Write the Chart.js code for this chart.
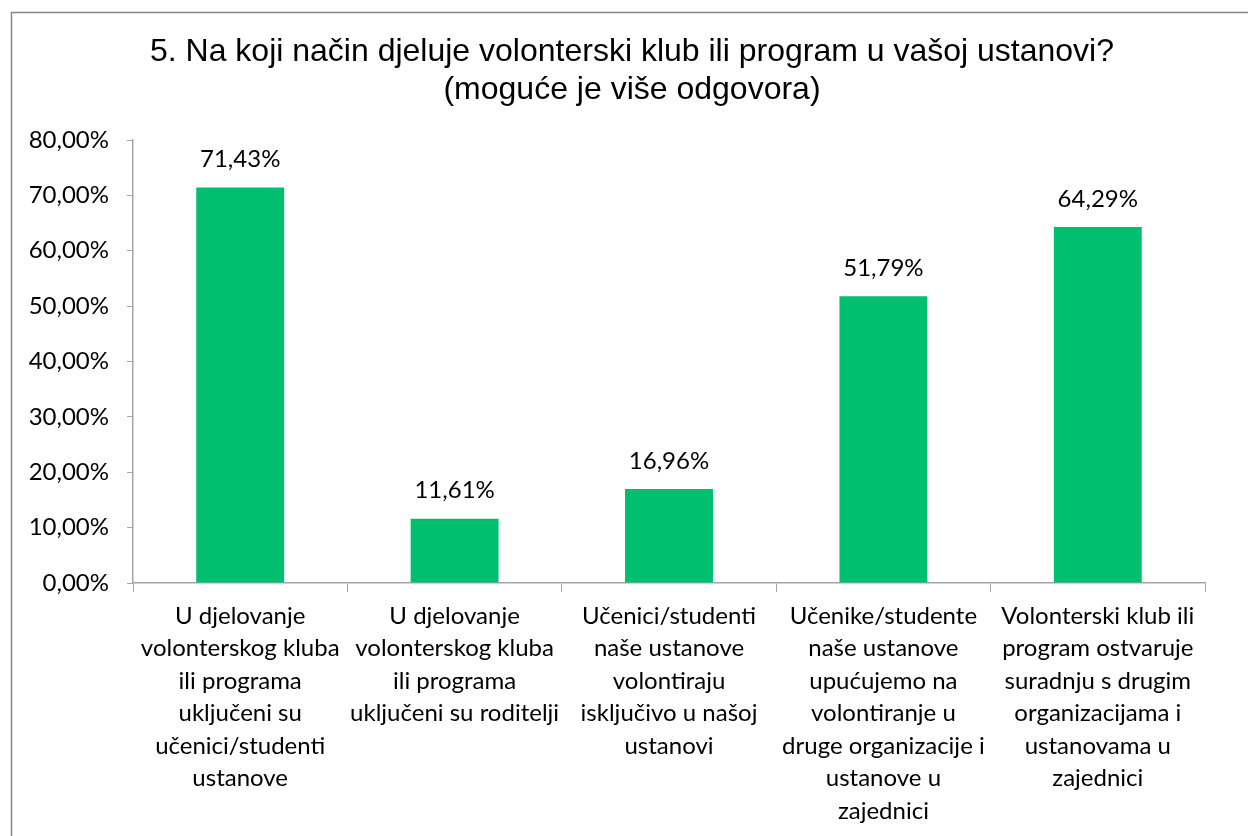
<!DOCTYPE html>
<html>
<head>
<meta charset="utf-8">
<script src="https://cdn.jsdelivr.net/npm/chart.js@4.4.0/dist/chart.umd.min.js"></script>
<style>
  html, body { margin: 0; padding: 0; background: #fff; }
  #wrap { width: 1248px; height: 836px; }
</style>
</head>
<body>
<div id="wrap"><canvas id="grafikon" width="1248" height="836"></canvas></div>
<script>
// podaci s grafikona
const kategorije = [
    ['U djelovanje', 'volonterskog kluba', 'ili programa', 'uključeni su', 'učenici/studenti', 'ustanove'],
    ['U djelovanje', 'volonterskog kluba', 'ili programa', 'uključeni su roditelji'],
    ['Učenici/studenti', 'naše ustanove', 'volontiraju', 'isključivo u našoj', 'ustanovi'],
    ['Učenike/studente', 'naše ustanove', 'upućujemo na', 'volontiranje u', 'druge organizacije i', 'ustanove u', 'zajednici'],
    ['Volonterski klub ili', 'program ostvaruje', 'suradnju s drugim', 'organizacijama i', 'ustanovama u', 'zajednici']
];
const vrijednosti = [0.7143, 0.1161, 0.1696, 0.5179, 0.6429];
const naslov = ['5. Na koji način djeluje volonterski klub ili program u vašoj ustanovi?', '(moguće je više odgovora)'];

const sivaOs = '#a6a6a6';
const zelena = '#00bf6f';
const pismo = 'Lato, "Open Sans", sans-serif';

// format postotka s decimalnim zarezom
function formatPostotak(v) {
    return (v * 100).toFixed(2).replace('.', ',') + '%';
}

// okvir i naslov grafikona
const okvirPlugin = {
    id: 'okvir',
    beforeDraw(chart) {
        const ctx = chart.ctx;
        ctx.save();
        ctx.fillStyle = '#fff';
        ctx.fillRect(0, 0, chart.width, chart.height);
        ctx.strokeStyle = '#878787';
        ctx.lineWidth = 1.5;
        ctx.beginPath();
        ctx.moveTo(11.5, chart.height + 2);
        ctx.lineTo(11.5, 12.5);
        ctx.lineTo(chart.width + 2, 12.5);
        ctx.stroke();

        // naslov u dva retka
        ctx.font = '32px "Liberation Sans", Arial, sans-serif';
        ctx.fillStyle = '#000';
        ctx.textAlign = 'center';
        ctx.textBaseline = 'middle';
        naslov.forEach((red, i) => {
            ctx.fillText(red, 632, 52 + i * 38);
        });
        ctx.restore();
    }
};

// oznake vrijednosti iznad stupaca
const oznakePlugin = {
    id: 'oznake',
    afterDatasetsDraw(chart) {
        const ctx = chart.ctx;
        const meta = chart.getDatasetMeta(0);
        ctx.save();
        ctx.font = '24px ' + pismo;
        ctx.fillStyle = '#000';
        ctx.textAlign = 'center';
        ctx.textBaseline = 'middle';
        meta.data.forEach((bar, i) => {
            ctx.fillText(formatPostotak(vrijednosti[i]), bar.x, bar.y - 28);
        });
        ctx.restore();
    }
};

new Chart(document.getElementById('grafikon'), {
    type: 'bar',
    data: {
        labels: kategorije,
        datasets: [{
            data: vrijednosti,
            backgroundColor: zelena,
            borderWidth: 0,
            categoryPercentage: 1,
            barPercentage: 0.41
        }]
    },
    options: {
        responsive: false,
        animation: false,
        layout: { padding: { top: 140, right: 43, bottom: 0, left: 0 } },
        plugins: {
            legend: { display: false },
            tooltip: { enabled: false },
            title: { display: false }
        },
        scales: {
            y: {
                min: 0,
                max: 0.8,
                afterFit(scale) { scale.width = 133; },
                ticks: {
                    stepSize: 0.1,
                    color: '#000',
                    padding: 18,
                    font: { family: pismo, size: 24 },
                    callback: v => formatPostotak(v)
                },
                grid: { drawOnChartArea: false, color: sivaOs, tickLength: 6 },
                border: { color: sivaOs, width: 1.5 }
            },
            x: {
                afterFit(scale) { scale.height = 253; },
                ticks: {
                    color: '#000',
                    maxRotation: 0,
                    autoSkip: false,
                    padding: 8,
                    font: { family: pismo, size: 24, lineHeight: 1.354 }
                },
                grid: { offset: true, drawOnChartArea: false, color: sivaOs, tickLength: 9 },
                border: { color: sivaOs, width: 1.5 }
            }
        }
    },
    plugins: [okvirPlugin, oznakePlugin]
});
</script>
</body>
</html>
